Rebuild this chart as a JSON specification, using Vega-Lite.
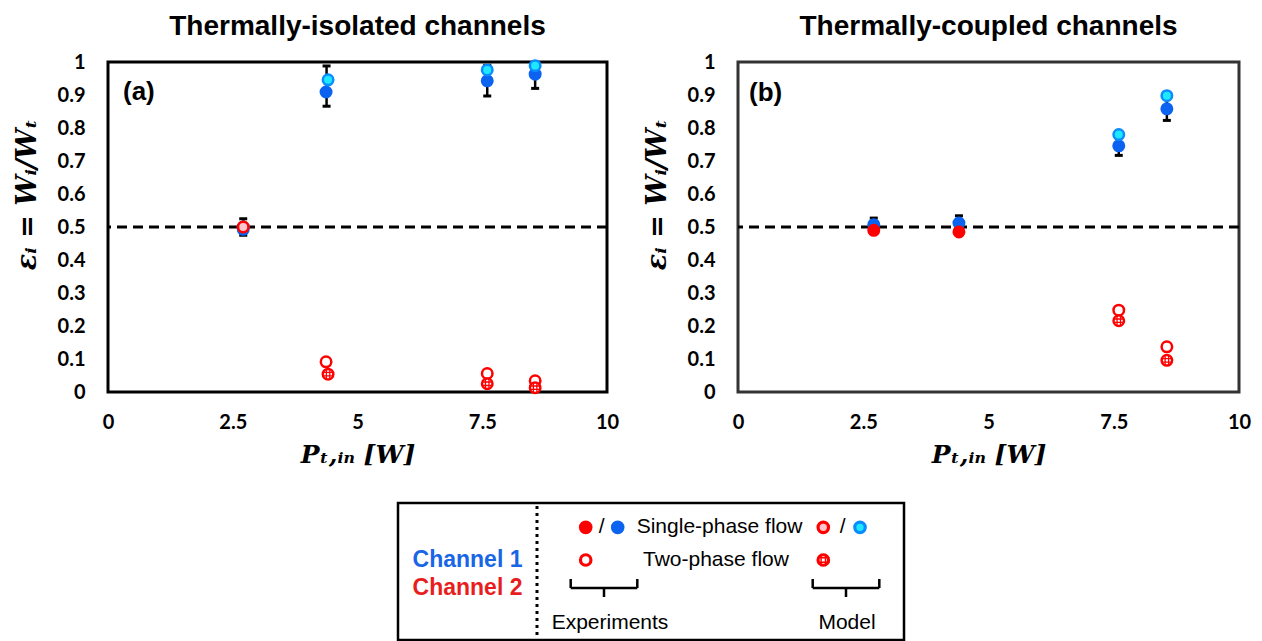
{
  "$schema": "https://vega.github.io/schema/vega-lite/v6.json",
  "background": "white",
  "padding": {"left": 11, "top": 11, "right": 0, "bottom": 0},
  "config": {
    "view": {"stroke": "black", "strokeWidth": 3},
    "axis": {"grid": false, "ticks": false, "domain": false, "labelFont": "Lato", "labelFontWeight": "bold", "labelFontSize": 20, "labelColor": "black", "labelFlush": false, "labelOverlap": false, "titleFont": "DejaVu Serif", "titleFontStyle": "italic", "titleFontWeight": "bold", "titleFontSize": 25, "titleColor": "black"},
    "axisY": {"labelPadding": 23, "titlePadding": 16, "titleFontSize": 27},
    "axisX": {"labelPadding": 20, "titlePadding": 10},
    "title": {"font": "Liberation Sans", "fontSize": 28, "fontWeight": "bold", "color": "black", "offset": 11}
  },
  "datasets": {
    "pts": [
      {"p": "a", "x": 2.71, "y": 0.493, "k": "exp1"},
      {"p": "a", "x": 2.71, "y": 0.5, "k": "exp2s"},
      {"p": "a", "x": 2.71, "y": 0.5, "k": "mod1"},
      {"p": "a", "x": 2.71, "y": 0.5, "k": "mod2s"},
      {"p": "a", "x": 4.37, "y": 0.909, "k": "exp1"},
      {"p": "a", "x": 4.37, "y": 0.0915, "k": "exp2t"},
      {"p": "a", "x": 4.41, "y": 0.946, "k": "mod1"},
      {"p": "a", "x": 4.41, "y": 0.054, "k": "mod2t"},
      {"p": "a", "x": 7.6, "y": 0.943, "k": "exp1"},
      {"p": "a", "x": 7.6, "y": 0.056, "k": "exp2t"},
      {"p": "a", "x": 7.6, "y": 0.976, "k": "mod1"},
      {"p": "a", "x": 7.6, "y": 0.025, "k": "mod2t"},
      {"p": "a", "x": 8.56, "y": 0.963, "k": "exp1"},
      {"p": "a", "x": 8.56, "y": 0.034, "k": "exp2t"},
      {"p": "a", "x": 8.56, "y": 0.989, "k": "mod1"},
      {"p": "a", "x": 8.56, "y": 0.013, "k": "mod2t"},
      {"p": "b", "x": 2.71, "y": 0.507, "k": "exp1"},
      {"p": "b", "x": 2.71, "y": 0.49, "k": "exp2s"},
      {"p": "b", "x": 4.41, "y": 0.512, "k": "exp1"},
      {"p": "b", "x": 4.41, "y": 0.485, "k": "exp2s"},
      {"p": "b", "x": 7.6, "y": 0.746, "k": "exp1"},
      {"p": "b", "x": 7.6, "y": 0.248, "k": "exp2t"},
      {"p": "b", "x": 7.6, "y": 0.78, "k": "mod1"},
      {"p": "b", "x": 7.6, "y": 0.216, "k": "mod2t"},
      {"p": "b", "x": 8.56, "y": 0.858, "k": "exp1"},
      {"p": "b", "x": 8.56, "y": 0.137, "k": "exp2t"},
      {"p": "b", "x": 8.56, "y": 0.898, "k": "mod1"},
      {"p": "b", "x": 8.56, "y": 0.096, "k": "mod2t"}
    ],
    "err": [
      {"p": "a", "x": 2.71, "lo": 0.475, "hi": 0.525},
      {"p": "a", "x": 4.38, "lo": 0.866, "hi": 0.988},
      {"p": "a", "x": 7.6, "lo": 0.897, "hi": 0.99},
      {"p": "a", "x": 8.56, "lo": 0.92, "hi": 0.99},
      {"p": "b", "x": 2.71, "lo": 0.49, "hi": 0.527},
      {"p": "b", "x": 4.41, "lo": 0.49, "hi": 0.534},
      {"p": "b", "x": 7.6, "lo": 0.717, "hi": 0.775},
      {"p": "b", "x": 8.56, "lo": 0.823, "hi": 0.89}
    ],
    "legtext": [
      {"t": "Channel 1", "s": "c1", "lx": 69.5, "ly": 57},
      {"t": "Channel 2", "s": "c2", "lx": 69.5, "ly": 85},
      {"t": "/", "s": "n", "lx": 203.7, "ly": 24},
      {"t": "/", "s": "n", "lx": 444.7, "ly": 24},
      {"t": "Single-phase flow", "s": "l", "lx": 238.7, "ly": 24},
      {"t": "Two-phase flow", "s": "l", "lx": 245, "ly": 57},
      {"t": "Experiments", "s": "n", "lx": 212, "ly": 120},
      {"t": "Model", "s": "n", "lx": 449, "ly": 120}
    ],
    "legsym": [
      {"k": "exp2s", "lx": 187.7, "ly": 24.3},
      {"k": "exp1", "lx": 219.7, "ly": 24.3},
      {"k": "mod2s", "lx": 425.3, "ly": 24.3},
      {"k": "mod1", "lx": 462, "ly": 24.3},
      {"k": "exp2t", "lx": 187.7, "ly": 57},
      {"k": "mod2t", "lx": 425.3, "ly": 57}
    ],
    "brace": [
      {"lx": 172.7, "ly": 85, "lx2": 239.3, "ly2": 85},
      {"lx": 172.7, "ly": 76, "lx2": 172.7, "ly2": 85},
      {"lx": 239.3, "ly": 76, "lx2": 239.3, "ly2": 85},
      {"lx": 206, "ly": 85, "lx2": 206, "ly2": 94},
      {"lx": 414.7, "ly": 85, "lx2": 481.3, "ly2": 85},
      {"lx": 414.7, "ly": 76, "lx2": 414.7, "ly2": 85},
      {"lx": 481.3, "ly": 76, "lx2": 481.3, "ly2": 85},
      {"lx": 448, "ly": 85, "lx2": 448, "ly2": 94}
    ]
  },
  "vconcat": [
    {
      "hconcat": [
        {
          "width": 499,
          "height": 330,
          "title": {"text": "Thermally-isolated channels"},
          "layer": [
            {
              "data": {"values": [{}]},
              "mark": {"type": "rule", "strokeDash": [10, 6], "strokeWidth": 3, "color": "black"},
              "encoding": {"y": {"datum": 0.5, "type": "quantitative", "scale": {"domain": [0, 1], "nice": false}, "axis": {"values": [0, 0.1, 0.2, 0.3, 0.4, 0.5, 0.6, 0.7, 0.8, 0.9, 1], "tickCount": 11, "labelExpr": "toString(datum.value)", "labelOverlap": false, "title": "εᵢ = Wᵢ/Wₜ", "titleY": 132}}}
            },
            {
              "data": {"name": "err"},
              "transform": [{"filter": "datum.p === 'a'"}],
              "mark": {"type": "rule", "strokeWidth": 2.5, "color": "black"},
              "encoding": {"x": {"field": "x", "type": "quantitative"}, "y": {"field": "lo", "type": "quantitative"}, "y2": {"field": "hi"}}
            },
            {
              "data": {"name": "err"},
              "transform": [{"filter": "datum.p === 'a'"}],
              "mark": {"type": "tick", "orient": "horizontal", "size": 8, "thickness": 3, "color": "black", "opacity": 1},
              "encoding": {"x": {"field": "x", "type": "quantitative"}, "y": {"field": "lo", "type": "quantitative"}}
            },
            {
              "data": {"name": "err"},
              "transform": [{"filter": "datum.p === 'a'"}],
              "mark": {"type": "tick", "orient": "horizontal", "size": 8, "thickness": 3, "color": "black", "opacity": 1},
              "encoding": {"x": {"field": "x", "type": "quantitative"}, "y": {"field": "hi", "type": "quantitative"}}
            },
            {
              "data": {"name": "pts"},
              "transform": [{"filter": "datum.p === 'a'"}],
              "mark": {"type": "point", "opacity": 1, "strokeWidth": 2.5},
              "encoding": {
                "x": {"field": "x", "type": "quantitative", "scale": {"domain": [0, 10], "nice": false, "zero": false}, "axis": {"values": [0, 2.5, 5, 7.5, 10], "labelExpr": "toString(datum.value)", "labelOverlap": false, "title": "Pₜ,ᵢₙ [W]"}},
                "y": {"field": "y", "type": "quantitative", "scale": {"domain": [0, 1], "nice": false}, "axis": {"values": [0, 0.1, 0.2, 0.3, 0.4, 0.5, 0.6, 0.7, 0.8, 0.9, 1], "tickCount": 11, "labelExpr": "toString(datum.value)", "labelOverlap": false, "title": "εᵢ = Wᵢ/Wₜ", "titleY": 132}},
                "fill": {"field": "k", "type": "nominal", "legend": null, "scale": {"domain": ["exp1", "exp2s", "exp2t", "mod1", "mod2s", "mod2t"], "range": ["#0b63f0", "#ff0000", "#ffffff", "#1ee8ff", "#ffc6cc", "#ffffff"]}},
                "stroke": {"field": "k", "type": "nominal", "legend": null, "scale": {"domain": ["exp1", "exp2s", "exp2t", "mod1", "mod2s", "mod2t"], "range": ["#0b63f0", "#ff0000", "#ff0000", "#0a8cff", "#ff0000", "#ff0000"]}},
                "size": {"field": "k", "type": "ordinal", "legend": null, "scale": {"domain": ["exp1", "exp2s", "exp2t", "mod1", "mod2s", "mod2t"], "range": [110, 110, 90, 110, 120, 110]}}
              }
            },
            {
              "data": {"name": "pts"},
              "transform": [{"filter": "datum.p === 'a' && datum.k === 'mod2t'"}],
              "mark": {"type": "point", "filled": false, "opacity": 1, "shape": "M-0.33,-0.94V0.94M0.33,-0.94V0.94M-0.94,-0.33H0.94M-0.94,0.33H0.94", "size": 110, "stroke": "#ff0000", "strokeWidth": 1.3},
              "encoding": {"x": {"field": "x", "type": "quantitative"}, "y": {"field": "y", "type": "quantitative"}}
            },
            {
              "data": {"values": [{}]},
              "mark": {"type": "text", "align": "left", "baseline": "middle", "font": "Liberation Sans", "fontSize": 26, "fontWeight": "bold", "color": "black"},
              "encoding": {"x": {"datum": 0.3, "type": "quantitative"}, "y": {"datum": 0.91, "type": "quantitative"}, "text": {"value": "(a)"}}
            }
          ]
        },
        {
          "width": 501,
          "height": 330,
          "title": {"text": "Thermally-coupled channels"},
          "view": {"stroke": "#333333", "strokeWidth": 3},
          "layer": [
            {
              "data": {"values": [{}]},
              "mark": {"type": "rule", "strokeDash": [10, 6], "strokeWidth": 3, "color": "black"},
              "encoding": {"y": {"datum": 0.5, "type": "quantitative", "scale": {"domain": [0, 1], "nice": false}, "axis": {"values": [0, 0.1, 0.2, 0.3, 0.4, 0.5, 0.6, 0.7, 0.8, 0.9, 1], "tickCount": 11, "labelExpr": "toString(datum.value)", "labelOverlap": false, "title": "εᵢ = Wᵢ/Wₜ", "titleY": 132}}}
            },
            {
              "data": {"name": "err"},
              "transform": [{"filter": "datum.p === 'b'"}],
              "mark": {"type": "rule", "strokeWidth": 2.5, "color": "black"},
              "encoding": {"x": {"field": "x", "type": "quantitative"}, "y": {"field": "lo", "type": "quantitative"}, "y2": {"field": "hi"}}
            },
            {
              "data": {"name": "err"},
              "transform": [{"filter": "datum.p === 'b'"}],
              "mark": {"type": "tick", "orient": "horizontal", "size": 8, "thickness": 3, "color": "black", "opacity": 1},
              "encoding": {"x": {"field": "x", "type": "quantitative"}, "y": {"field": "lo", "type": "quantitative"}}
            },
            {
              "data": {"name": "err"},
              "transform": [{"filter": "datum.p === 'b'"}],
              "mark": {"type": "tick", "orient": "horizontal", "size": 8, "thickness": 3, "color": "black", "opacity": 1},
              "encoding": {"x": {"field": "x", "type": "quantitative"}, "y": {"field": "hi", "type": "quantitative"}}
            },
            {
              "data": {"name": "pts"},
              "transform": [{"filter": "datum.p === 'b'"}],
              "mark": {"type": "point", "opacity": 1, "strokeWidth": 2.5},
              "encoding": {
                "x": {"field": "x", "type": "quantitative", "scale": {"domain": [0, 10], "nice": false, "zero": false}, "axis": {"values": [0, 2.5, 5, 7.5, 10], "labelExpr": "toString(datum.value)", "labelOverlap": false, "title": "Pₜ,ᵢₙ [W]"}},
                "y": {"field": "y", "type": "quantitative", "scale": {"domain": [0, 1], "nice": false}, "axis": {"values": [0, 0.1, 0.2, 0.3, 0.4, 0.5, 0.6, 0.7, 0.8, 0.9, 1], "tickCount": 11, "labelExpr": "toString(datum.value)", "labelOverlap": false, "title": "εᵢ = Wᵢ/Wₜ", "titleY": 132}},
                "fill": {"field": "k", "type": "nominal", "legend": null, "scale": {"domain": ["exp1", "exp2s", "exp2t", "mod1", "mod2s", "mod2t"], "range": ["#0b63f0", "#ff0000", "#ffffff", "#1ee8ff", "#ffc6cc", "#ffffff"]}},
                "stroke": {"field": "k", "type": "nominal", "legend": null, "scale": {"domain": ["exp1", "exp2s", "exp2t", "mod1", "mod2s", "mod2t"], "range": ["#0b63f0", "#ff0000", "#ff0000", "#0a8cff", "#ff0000", "#ff0000"]}},
                "size": {"field": "k", "type": "ordinal", "legend": null, "scale": {"domain": ["exp1", "exp2s", "exp2t", "mod1", "mod2s", "mod2t"], "range": [110, 110, 90, 110, 120, 110]}}
              }
            },
            {
              "data": {"name": "pts"},
              "transform": [{"filter": "datum.p === 'b' && datum.k === 'mod2t'"}],
              "mark": {"type": "point", "filled": false, "opacity": 1, "shape": "M-0.33,-0.94V0.94M0.33,-0.94V0.94M-0.94,-0.33H0.94M-0.94,0.33H0.94", "size": 110, "stroke": "#ff0000", "strokeWidth": 1.3},
              "encoding": {"x": {"field": "x", "type": "quantitative"}, "y": {"field": "y", "type": "quantitative"}}
            },
            {
              "data": {"values": [{}]},
              "mark": {"type": "text", "align": "left", "baseline": "middle", "font": "Liberation Sans", "fontSize": 26, "fontWeight": "bold", "color": "black"},
              "encoding": {"x": {"datum": 0.22, "type": "quantitative"}, "y": {"datum": 0.906, "type": "quantitative"}, "text": {"value": "(b)"}}
            }
          ]
        }
      ],
      "spacing": 131,
      "bounds": "flush"
    },
    {
      "width": 1131,
      "height": 138,
      "view": {"stroke": null},
      "layer": [
        {
          "data": {"values": [{}]},
          "mark": {"type": "rect", "fillOpacity": 0, "stroke": "black", "strokeWidth": 2.5},
          "encoding": {
            "x": {"datum": 0, "type": "quantitative", "scale": {"domain": [-290, 841], "nice": false, "zero": false}, "axis": null},
            "x2": {"datum": 506},
            "y": {"datum": 0, "type": "quantitative", "scale": {"domain": [0, 138], "reverse": true, "nice": false, "zero": false}, "axis": null},
            "y2": {"datum": 137}
          }
        },
        {
          "data": {"values": [{}]},
          "mark": {"type": "rule", "strokeDash": [3, 4], "strokeWidth": 3, "color": "black"},
          "encoding": {"x": {"datum": 139, "type": "quantitative"}, "y": {"datum": 3, "type": "quantitative"}, "y2": {"datum": 137}}
        },
        {
          "data": {"name": "brace"},
          "mark": {"type": "rule", "strokeWidth": 2.5, "color": "black"},
          "encoding": {"x": {"field": "lx", "type": "quantitative"}, "x2": {"field": "lx2"}, "y": {"field": "ly", "type": "quantitative"}, "y2": {"field": "ly2"}}
        },
        {
          "data": {"name": "legtext"},
          "transform": [{"filter": "datum.s === 'c1'"}],
          "mark": {"type": "text", "align": "center", "baseline": "middle", "font": "Liberation Sans", "fontSize": 23, "fontWeight": "bold", "color": "#1866e6"},
          "encoding": {"x": {"field": "lx", "type": "quantitative"}, "y": {"field": "ly", "type": "quantitative"}, "text": {"field": "t"}}
        },
        {
          "data": {"name": "legtext"},
          "transform": [{"filter": "datum.s === 'c2'"}],
          "mark": {"type": "text", "align": "center", "baseline": "middle", "font": "Liberation Sans", "fontSize": 23, "fontWeight": "bold", "color": "#e81e1e"},
          "encoding": {"x": {"field": "lx", "type": "quantitative"}, "y": {"field": "ly", "type": "quantitative"}, "text": {"field": "t"}}
        },
        {
          "data": {"name": "legtext"},
          "transform": [{"filter": "datum.s === 'n'"}],
          "mark": {"type": "text", "align": "center", "baseline": "middle", "font": "Liberation Sans", "fontSize": 21, "color": "black"},
          "encoding": {"x": {"field": "lx", "type": "quantitative"}, "y": {"field": "ly", "type": "quantitative"}, "text": {"field": "t"}}
        },
        {
          "data": {"name": "legtext"},
          "transform": [{"filter": "datum.s === 'l'"}],
          "mark": {"type": "text", "align": "left", "baseline": "middle", "font": "Liberation Sans", "fontSize": 21, "color": "black"},
          "encoding": {"x": {"field": "lx", "type": "quantitative"}, "y": {"field": "ly", "type": "quantitative"}, "text": {"field": "t"}}
        },
        {
          "data": {"name": "legsym"},
          "mark": {"type": "point", "opacity": 1, "strokeWidth": 3.2},
          "encoding": {
            "x": {"field": "lx", "type": "quantitative"},
            "y": {"field": "ly", "type": "quantitative"},
            "fill": {"field": "k", "type": "nominal", "legend": null, "scale": {"domain": ["exp1", "exp2s", "exp2t", "mod1", "mod2s", "mod2t"], "range": ["#0b63f0", "#ff0000", "#ffffff", "#1ee8ff", "#ffc6cc", "#ffffff"]}},
            "stroke": {"field": "k", "type": "nominal", "legend": null, "scale": {"domain": ["exp1", "exp2s", "exp2t", "mod1", "mod2s", "mod2t"], "range": ["#0b63f0", "#ff0000", "#ff0000", "#0a8cff", "#ff0000", "#ff0000"]}},
            "size": {"field": "k", "type": "ordinal", "legend": null, "scale": {"domain": ["exp1", "exp2s", "exp2t", "mod1", "mod2s", "mod2t"], "range": [200, 200, 190, 215, 215, 175]}}
          }
        },
        {
          "data": {"name": "legsym"},
          "transform": [{"filter": "datum.k === 'mod2t'"}],
          "mark": {"type": "point", "filled": false, "opacity": 1, "shape": "M-0.33,-0.94V0.94M0.33,-0.94V0.94M-0.94,-0.33H0.94M-0.94,0.33H0.94", "size": 175, "stroke": "#ff0000", "strokeWidth": 1.4},
          "encoding": {"x": {"field": "lx", "type": "quantitative"}, "y": {"field": "ly", "type": "quantitative"}}
        }
      ]
    }
  ],
  "spacing": 441,
  "bounds": "flush"
}
